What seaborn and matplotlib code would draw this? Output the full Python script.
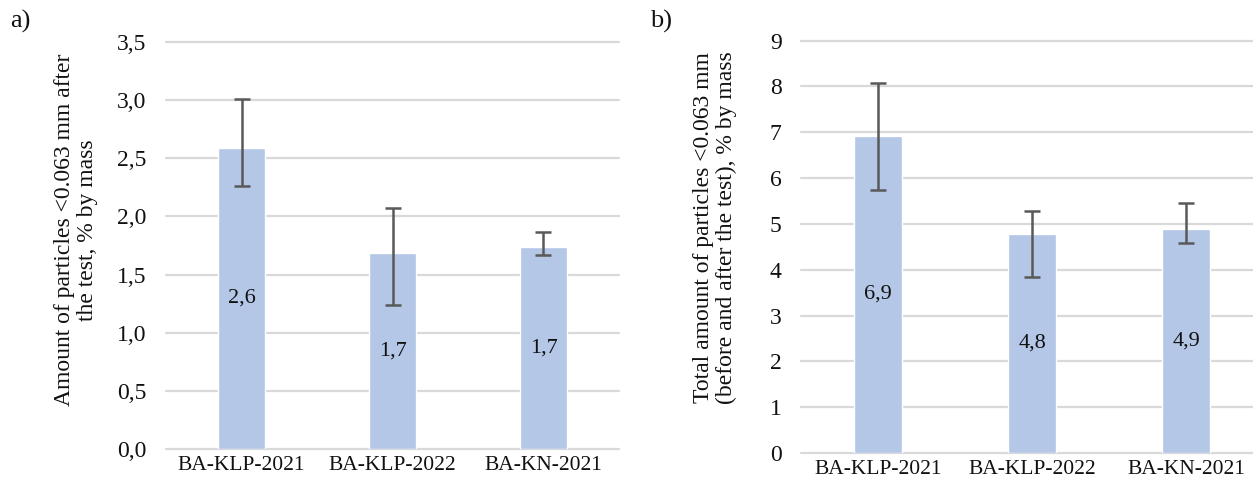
import numpy as np
import pandas as pd
import matplotlib
matplotlib.use("Agg")
import matplotlib.pyplot as plt
import seaborn as sns

# data
samples = ["BA-KLP-2021", "BA-KLP-2022", "BA-KN-2021"]

after_mean = [2.59, 1.69, 1.74]
after_low = [2.26, 1.24, 1.67]
after_high = [3.01, 2.07, 1.87]
after_labels = ["2,6", "1,7", "1,7"]

total_mean = [6.92, 4.78, 4.88]
total_low = [5.74, 3.84, 4.59]
total_high = [8.07, 5.29, 5.45]
total_labels = ["6,9", "4,8", "4,9"]

sns.set_theme(style="white")
plt.rcParams["font.family"] = ["Liberation Serif", "DejaVu Serif"]
plt.rcParams["font.size"] = 15

bar_color = "#b4c7e7"
err_color = "#595959"
grid_color = "#d9d9d9"
text_color = "#111111"

fig = plt.figure(figsize=(12.53, 4.86), dpi=100)
ax1 = fig.add_axes([0.1325, 0.0761, 0.3615, 0.8374])
ax2 = fig.add_axes([0.6393, 0.0679, 0.3607, 0.8484])


def draw_panel(ax, mean, low, high, labels, ylim, yticks, ytick_fmt, ylabel, xmax, label_xy):
    df = pd.DataFrame({"sample": samples, "value": mean})
    sns.barplot(data=df, x="sample", y="value", color=bar_color, width=0.31,
                saturation=1, ax=ax, zorder=2)
    yerr = [np.array(mean) - np.array(low), np.array(high) - np.array(mean)]
    ax.errorbar(range(len(samples)), mean, yerr=yerr, fmt="none",
                ecolor=err_color, elinewidth=1.8, capsize=6, capthick=1.8, zorder=3)
    ax.bar_label(ax.containers[0], labels=labels, label_type="center",
                 fontsize=16, color=text_color)
    ax.set_ylim(*ylim)
    ax.set_xlim(-0.5, xmax)
    ax.set_yticks(yticks)
    ax.set_yticklabels([ytick_fmt(t) for t in yticks])
    ax.yaxis.grid(True, color=grid_color, linewidth=1.6, zorder=0)
    ax.set_axisbelow(True)
    for s in ax.spines.values():
        s.set_visible(False)
    ax.tick_params(axis="y", length=0, pad=14, labelsize=17, colors=text_color)
    ax.tick_params(axis="x", length=0, pad=5, labelsize=15.5, colors=text_color)
    ax.set_xlabel("")
    ax.set_ylabel(ylabel, fontsize=17, color=text_color, linespacing=1.13)
    ax.yaxis.set_label_coords(*label_xy)
    for g in ax.get_ygridlines():
        g.set_clip_on(False)


draw_panel(ax1, after_mean, after_low, after_high, after_labels,
           (0, 3.5), np.arange(0, 3.51, 0.5),
           lambda t: f"{t:.1f}".replace(".", ","),
           "Amount of particles <0.063 mm after\nthe test, % by mass", 2.5,
           (-0.150, 0.538))

draw_panel(ax2, total_mean, total_low, total_high, total_labels,
           (0, 9), np.arange(0, 10, 1),
           lambda t: f"{t:.0f}",
           "Total amount of particles <0.063 mm\n(before and after the test), % by mass",
           2.435, (-0.142, 0.546))

fig.text(0.008, 0.955, "a)", fontsize=19, color=text_color, va="center")
fig.text(0.519, 0.955, "b)", fontsize=19, color=text_color, va="center")

fig.savefig("out.png", dpi=100)
